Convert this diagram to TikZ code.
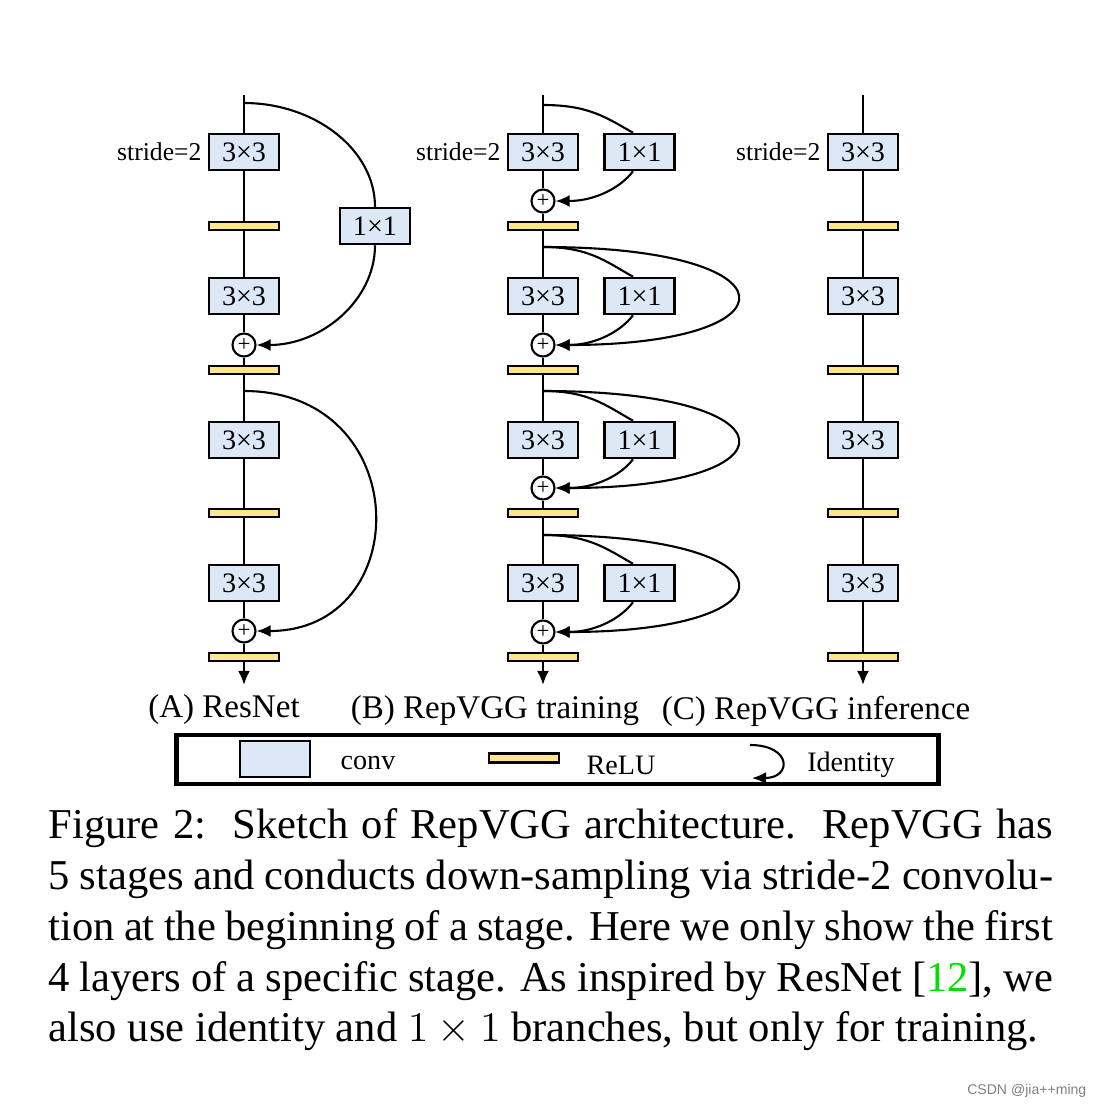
\documentclass[tikz,border=0pt]{standalone}
\usepackage{fontspec}
\setmainfont{Liberation Serif}
\newfontfamily\wmfont{Liberation Sans}
\usetikzlibrary{positioning,arrows.meta}
\definecolor{convblue}{RGB}{220,232,246}
\definecolor{reluyellow}{RGB}{255,229,143}
\definecolor{citegreen}{RGB}{0,225,0}
\tikzset{
    conv/.style={draw, fill=convblue, line width=0.7pt, minimum width=0.70cm, minimum height=0.36cm, inner sep=0pt, font=\fontsize{8}{9}\selectfont},
    relu/.style={draw, fill=reluyellow, line width=0.7pt, minimum width=0.70cm, minimum height=0.08cm, inner sep=0pt},
    addop/.style={draw, circle, fill=white, line width=0.6pt, minimum size=0.23cm, inner sep=0pt, font=\fontsize{6.5}{6.5}\selectfont},
    flow/.style={line width=0.6pt},
    tip/.style={-{Latex[length=4pt,width=3.4pt]}},
    stride/.style={font=\fontsize{7.3}{9}\selectfont, inner sep=1pt},
    colname/.style={font=\fontsize{9.4}{11}\selectfont, inner sep=0pt},
    legtext/.style={font=\fontsize{8}{9}\selectfont, inner sep=0pt}
}
\begin{document}
\begin{tikzpicture}[x=0.01cm, y=-0.01cm]
    \useasboundingbox (0,0) rectangle (1102,1108);

    % (A) ResNet
    \coordinate (Atop) at (244,95);
    \coordinate (Aend) at (244,685);
    \coordinate (Ab1) at (244,103);
    \coordinate (Ab2) at (244,391);
    \foreach \i/\y in {1/152,2/296,3/440,4/583} {
        \node[conv] (Ac\i) at (244,\y) {3×3};
    }
    \foreach \i/\y in {1/226,2/370,3/513,4/657} {
        \node[relu] (Ar\i) at (244,\y) {};
    }
    \node[addop] (Aadd1) at (244,345) {+};
    \node[addop] (Aadd2) at (244,631) {+};
    \node[conv] (Ap1) at (375,226) {1×1};
    \node[stride, left=0.02cm of Ac1] (As) {stride=2};
    \draw[flow] (Atop) -- (Ac1) -- (Ar1) -- (Ac2) -- (Aadd1) -- (Ar2) -- (Ac3) -- (Ar3) -- (Ac4) -- (Aadd2) -- (Ar4);
    \draw[flow, tip] (Ar4) -- (Aend);
    \draw[flow] (Ab1) .. controls +(71,0) and +(0,-57) .. (Ap1.north);
    \draw[flow, tip] (Ap1.south) .. controls +(0,55) and +(65,0) .. (Aadd1.east);
    \draw[flow, tip] (Ab2) .. controls +(171,0) and +(160,0) .. (Aadd2.east);

    % (B) RepVGG training
    \coordinate (Btop) at (543,95);
    \coordinate (Bend) at (543,685);
    \foreach \i/\y in {1/152,2/296,3/440,4/583} {
        \node[conv] (Bc\i) at (543,\y) {3×3};
        \node[conv] (Bp\i) at (639.5,\y) {1×1};
    }
    \foreach \i/\y in {1/226,2/370,3/513,4/657} {
        \node[relu] (Br\i) at (543,\y) {};
    }
    \foreach \i/\y in {1/201,2/345,3/488,4/632} {
        \node[addop] (Badd\i) at (543,\y) {+};
    }
    \foreach \i/\y in {1/105,2/247,3/391,4/535} {
        \coordinate (Bb\i) at (543,\y);
        \draw[flow] (Bb\i) .. controls +(45,0) and +(-28,-16) .. ([xshift=-0.065cm]Bp\i.north);
        \draw[flow, tip] ([xshift=-0.065cm]Bp\i.south) .. controls +(-12,16) and +(40,0) .. (Badd\i.east);
    }
    % identity loops
    \foreach \i in {2,3,4} {
        \draw[flow, tip] (Bb\i) .. controls +(257,0) and +(245,0) .. (Badd\i.east);
    }
    \node[stride, left=0.02cm of Bc1] (Bs) {stride=2};
    \draw[flow] (Btop) -- (Bc1) -- (Badd1) -- (Br1) -- (Bc2) -- (Badd2) -- (Br2) -- (Bc3) -- (Badd3) -- (Br3) -- (Bc4) -- (Badd4) -- (Br4);
    \draw[flow, tip] (Br4) -- (Bend);

    % (C) RepVGG inference
    \coordinate (Ctop) at (863,95);
    \coordinate (Cend) at (863,685);
    \foreach \i/\y in {1/152,2/296,3/440,4/583} {
        \node[conv] (Cc\i) at (863,\y) {3×3};
    }
    \foreach \i/\y in {1/226,2/370,3/513,4/657} {
        \node[relu] (Cr\i) at (863,\y) {};
    }
    \node[stride, left=0.02cm of Cc1] (Cs) {stride=2};
    \draw[flow] (Ctop) -- (Cc1) -- (Cr1) -- (Cc2) -- (Cr2) -- (Cc3) -- (Cr3) -- (Cc4) -- (Cr4);
    \draw[flow, tip] (Cr4) -- (Cend);

    % column names
    \node[colname] (Aname) at (224,710) {(A) ResNet};
    \node[colname] (Bname) at (495,711) {(B) RepVGG training};
    \node[colname] (Cname) at (816,711) {(C) RepVGG inference};

    % legend
    \node[draw, line width=1.3pt, minimum width=7.61cm, minimum height=0.49cm, inner sep=0pt] (legend) at (557.5,759.5) {};
    \node[conv] (lgconv) at (275,759) {};
    \node[legtext] (lgconvt) at (368,763) {conv};
    \node[relu, minimum height=0.09cm] (lgrelu) at (524,758) {};
    \node[legtext] (lgrelut) at (621,765) {ReLU};
    \coordinate (lgid1) at (750,745);
    \coordinate (lgid2) at (752,778);
    \draw[flow, tip] (lgid1) .. controls +(42,0) and +(40,0) .. (lgid2);
    \node[legtext] (lgidt) at (851,765) {Identity};

    % caption
    \node[anchor=north west, text width=10.04cm, align=justify, inner sep=0pt, font=\fontsize{12.1}{14.45}\selectfont] (caption) at (48,808)
        {Figure 2:\ \ Sketch of RepVGG architecture.\ \ RepVGG has\linebreak
         5 stages and conducts down-sampling via stride-2 convolu-\linebreak
         tion at the beginning of a stage. Here we only show the first\linebreak
         4 layers of a specific stage. As inspired by ResNet [{\color{citegreen}12}], we\linebreak
         also use identity and $1 \times 1$ branches, but only for training.};

    \node[anchor=east, inner sep=0pt, text=gray, font=\wmfont\fontsize{4}{5}\selectfont] (mark) at (1087,1091) {CSDN @jia++ming};
\end{tikzpicture}
\end{document}
